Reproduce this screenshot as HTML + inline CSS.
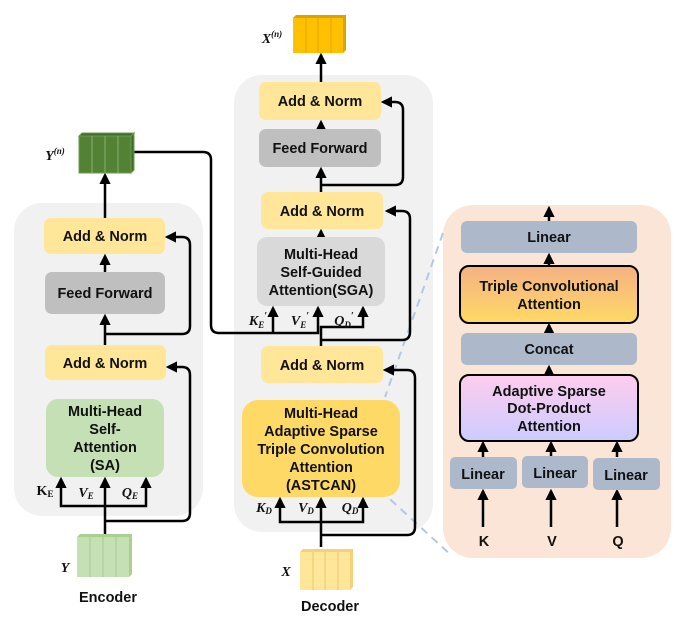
<!DOCTYPE html>
<html><head><meta charset="utf-8"><style>
body{margin:0;background:#fff}
svg text{font-family:"Liberation Sans",sans-serif;font-weight:bold;font-size:14.5px;fill:#111;text-anchor:middle}
.m{font-family:"Liberation Serif",serif;font-style:italic;font-size:14px}
</style></head><body>
<svg width="688" height="625" viewBox="0 0 688 625" xmlns="http://www.w3.org/2000/svg">
<defs>
<marker id="a" viewBox="0 0 10 10" refX="8" refY="5" markerWidth="4.5" markerHeight="4.5" orient="auto"><path d="M0,0L10,5L0,10z" fill="#000"/></marker>
<linearGradient id="g1" x1="0" y1="0" x2="0" y2="1"><stop offset="0" stop-color="#f4b183"/><stop offset="1" stop-color="#ffd966"/></linearGradient>
<linearGradient id="g2" x1="0" y1="0" x2="0" y2="1"><stop offset="0" stop-color="#ffccee"/><stop offset="1" stop-color="#ccccff"/></linearGradient>
</defs>
<rect x="14" y="203" width="189" height="313" rx="28" fill="#f1f1f1"/>
<rect x="234" y="75" width="199" height="457" rx="28" fill="#f1f1f1"/>
<rect x="443" y="205" width="228" height="353" rx="30" fill="#fbe5d6"/>
<g stroke="#b4c7e7" stroke-width="2" stroke-dasharray="8,6">
<line x1="443" y1="233" x2="385" y2="397"/><line x1="380" y1="490" x2="452" y2="556"/></g>
<g fill="none" stroke="#000" stroke-width="2.5" marker-end="url(#a)">
<path d="M105,254V175"/><path d="M105,272V256"/><path d="M105,345V316"/>
<path d="M105,535V479"/>
<path d="M105,506H61V479"/><path d="M105,506H146V479"/>
<path d="M105,521H182q8,0 8,-8V375q0,-8 -8,-8H168"/>
<path d="M105,334H182q8,0 8,-8V245q0,-8 -8,-8H167"/>
<path d="M321,82V55"/><path d="M321,129V122"/><path d="M321,192V169"/><path d="M321,237V231"/>
<path d="M321,547V499"/><path d="M321,522H280V499"/><path d="M321,522H363V499"/>
<path d="M321,535H407q8,0 8,-8V378q0,-8 -8,-8H385"/>
<path d="M321,185H395q8,0 8,-8V110q0,-8 -8,-8H383"/>
<path d="M321,346V327H363V308"/>
<path d="M321,340H402q8,0 8,-8V219q0,-8 -8,-8H387"/>
<path d="M134,152H203q8,0 8,8V325q0,8 8,8H318V308"/>
<path d="M273,333V308"/>
<path d="M549,221V208"/><path d="M549,266V255"/><path d="M549,333V325"/><path d="M549,375V367"/>
<path d="M483,457V443"/><path d="M551,457V443"/><path d="M617,457V443"/>
<path d="M483,527V491"/><path d="M551,527V491"/><path d="M617,527V491"/>
</g>
<rect x="44" y="218" width="121" height="36" rx="7" fill="#ffe699"/><text x="105" y="241">Add &amp; Norm</text>
<rect x="45" y="272" width="120" height="42" rx="7" fill="#bfbfbf"/><text x="105" y="298">Feed Forward</text>
<rect x="45" y="345" width="121" height="35" rx="7" fill="#ffe699"/><text x="105" y="368">Add &amp; Norm</text>
<rect x="46" y="399" width="118" height="78" rx="12" fill="#c5e0b4"/>
<text x="105" y="416">Multi-Head</text><text x="105" y="434">Self-</text><text x="105" y="452">Attention</text><text x="105" y="470">(SA)</text>
<text class="m" x="45" y="495" style="font-style:normal">K<tspan font-size="9" dy="2">E</tspan></text>
<text class="m" x="86" y="497">V<tspan font-size="9" dy="2">E</tspan></text>
<text class="m" x="130" y="497">Q<tspan font-size="9" dy="2">E</tspan></text>
<g fill="#548235" stroke="#6f9a50" stroke-width="1"><rect x="79" y="136" width="52" height="37"/><path d="M79,136l3,-3h52l-3,3zM131,136l3,-3v37l-3,3z" fill="#3f6b28"/></g>
<g stroke="#8ab06e"><line x1="92" y1="136" x2="92" y2="173"/><line x1="105" y1="136" x2="105" y2="173"/><line x1="118" y1="136" x2="118" y2="173"/></g>
<text class="m" x="55" y="160">Y<tspan font-size="9" dy="-6">(n)</tspan></text>
<g fill="#c5e0b4"><rect x="77" y="537" width="52" height="40"/><path d="M77,537l3,-3h52l-3,3zM129,537l3,-3v40l-3,3z" fill="#a9d08e"/></g>
<g stroke="#a9c895"><line x1="90" y1="537" x2="90" y2="577"/><line x1="103" y1="537" x2="103" y2="577"/><line x1="116" y1="537" x2="116" y2="577"/></g>
<text class="m" x="65" y="572">Y</text>
<text x="108" y="602">Encoder</text>
<rect x="259" y="82" width="122" height="38" rx="7" fill="#ffe699"/><text x="320" y="106">Add &amp; Norm</text>
<rect x="259" y="129" width="122" height="38" rx="7" fill="#bfbfbf"/><text x="320" y="153">Feed Forward</text>
<rect x="261" y="192" width="122" height="37" rx="7" fill="#ffe699"/><text x="322" y="216">Add &amp; Norm</text>
<rect x="257" y="237" width="128" height="69" rx="10" fill="#d9d9d9"/>
<text x="321" y="259">Multi-Head</text><text x="321" y="277">Self-Guided</text><text x="321" y="295">Attention(SGA)</text>
<text class="m" x="258" y="325">K<tspan font-size="9" dy="3">E</tspan><tspan font-size="10" dy="-9">′</tspan></text>
<text class="m" x="300" y="325">V<tspan font-size="9" dy="3">E</tspan><tspan font-size="10" dy="-9">′</tspan></text>
<text class="m" x="344" y="325">Q<tspan font-size="9" dy="3">D</tspan><tspan font-size="10" dy="-9">′</tspan></text>
<rect x="261" y="346" width="122" height="37" rx="7" fill="#ffe699"/><text x="322" y="370">Add &amp; Norm</text>
<rect x="242" y="400" width="158" height="97" rx="16" fill="#ffd966"/>
<text x="321" y="418">Multi-Head</text><text x="321" y="436">Adaptive Sparse</text><text x="321" y="454">Triple Convolution</text><text x="321" y="472">Attention</text><text x="321" y="490">(ASTCAN)</text>
<text class="m" x="264" y="512">K<tspan font-size="9" dy="2">D</tspan></text>
<text class="m" x="306" y="512">V<tspan font-size="9" dy="2">D</tspan></text>
<text class="m" x="350" y="512">Q<tspan font-size="9" dy="2">D</tspan></text>
<g fill="#ffc000"><rect x="293" y="18" width="50" height="35"/><path d="M293,18l3,-3h50l-3,3zM343,18l3,-3v35l-3,3z" fill="#d9a300"/></g>
<g stroke="#e0a800"><line x1="306" y1="18" x2="306" y2="53"/><line x1="318" y1="18" x2="318" y2="53"/><line x1="331" y1="18" x2="331" y2="53"/></g>
<text class="m" x="272" y="43">X<tspan font-size="9" dy="-6">(n)</tspan></text>
<g fill="#ffe699"><rect x="300" y="552" width="50" height="38"/><path d="M300,552l3,-3h50l-3,3zM350,552l3,-3v38l-3,3z" fill="#f5d27a"/></g>
<g stroke="#e8c870"><line x1="313" y1="552" x2="313" y2="590"/><line x1="325" y1="552" x2="325" y2="590"/><line x1="338" y1="552" x2="338" y2="590"/></g>
<text class="m" x="286" y="576">X</text>
<text x="330" y="611">Decoder</text>
<rect x="461" y="221" width="176" height="32" rx="6" fill="#adb9ca"/><text x="549" y="242">Linear</text>
<rect x="460" y="266" width="178" height="57" rx="9" fill="url(#g1)" stroke="#000" stroke-width="2"/>
<text x="549" y="291">Triple Convolutional</text><text x="549" y="309">Attention</text>
<rect x="461" y="333" width="176" height="32" rx="6" fill="#adb9ca"/><text x="549" y="354">Concat</text>
<rect x="460" y="375" width="178" height="66" rx="9" fill="url(#g2)" stroke="#000" stroke-width="2"/>
<text x="549" y="396">Adaptive Sparse</text><text x="549" y="413">Dot-Product</text><text x="549" y="431">Attention</text>
<rect x="450" y="457" width="67" height="32" rx="5" fill="#adb9ca"/><text x="483" y="479">Linear</text>
<rect x="522" y="456" width="66" height="32" rx="5" fill="#adb9ca"/><text x="555" y="478">Linear</text>
<rect x="593" y="458" width="67" height="32" rx="5" fill="#adb9ca"/><text x="626" y="480">Linear</text>
<text x="484" y="546">K</text><text x="552" y="546">V</text><text x="618" y="546">Q</text>
</svg>
</body></html>
